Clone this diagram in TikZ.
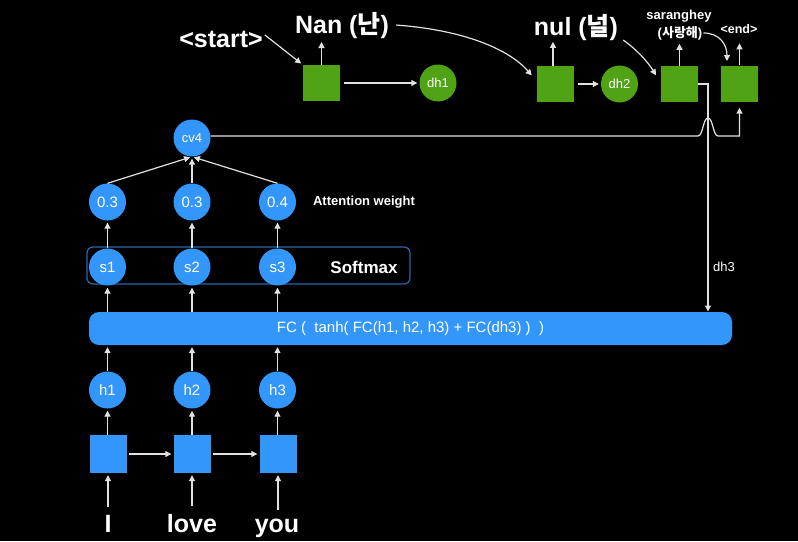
\documentclass[tikz,border=0pt]{standalone}
\usepackage{fontspec}
\setmainfont{Liberation Sans}
\newfontfamily\kr{Noto Sans CJK KR}
\usetikzlibrary{arrows.meta}
\definecolor{myblue}{RGB}{51,150,250}
\definecolor{mygreen}{RGB}{80,163,20}
\definecolor{boxline}{RGB}{45,100,170}
\definecolor{linec}{RGB}{225,225,225}
\tikzset{
  arr/.style={draw=linec, line width=1.2pt, -{Triangle[length=6pt,width=6pt]}, shorten >=2pt},
  bc/.style={circle, fill=myblue, text=white, minimum size=37pt, inner sep=0pt, font=\fontsize{15}{15}\selectfont},
  gc/.style={circle, fill=mygreen, text=white, minimum size=37pt, inner sep=0pt, font=\fontsize{13}{13}\selectfont},
  bsq/.style={fill=myblue, minimum width=37pt, minimum height=38pt, inner sep=0pt},
  gsq/.style={fill=mygreen, minimum width=37pt, minimum height=36pt, inner sep=0pt},
  big/.style={text=white, inner sep=2pt, font=\bfseries\fontsize{25}{25}\selectfont},
  small/.style={text=white, inner sep=1pt, font=\bfseries\fontsize{13}{14}\selectfont},
}
\begin{document}
\begin{tikzpicture}[x=1pt,y=-1pt]
\fill[black] (0,0) rectangle (798,541);
\useasboundingbox (0,0) rectangle (798,541);

% top decoder
\node[gsq] (b1) at (321.5,83) {};
\node[gc] (dh1) at (438,83) {dh1};
\node[gsq] (b2) at (555,84) {};
\node[gc] (dh2) at (619.5,84) {dh2};
\node[gsq] (b3) at (679.5,84) {};
\node[gsq] (b4) at (739.5,83.5) {};

\node[big, anchor=base] (start) at (221,47) {<start>};
\node[big, anchor=base] (nan) at (342,33) {Nan ({\kr 난})};
\node[big, anchor=base] (nul) at (576,35) {nul ({\kr 널})};
\node[small] (sar) at (679,16) {saranghey};
\node[small] (sarkr) at (680,33) {({\kr 사랑해})};
\node[small, font=\bfseries\fontsize{12.5}{14}\selectfont] (endt) at (739,29) {<end>};

\draw[arr] (start.east) ++(0,-4) coordinate (st0) -- (b1.north west);
\draw[arr] (b1.north) -- (b1.north |- 0,40);
\draw[arr] (b1.east) ++(4,0) coordinate (b1e) -- (dh1.west);
\draw[arr] (nan.east) ++(5,0) coordinate (n0) .. controls (465,30) and (510,50) .. (533,77);
\draw[arr] (b2.north) ++(-2,0) coordinate (b2n) -- ++(0,-26);
\draw[arr] (b2.east) ++(4,0) coordinate (b2e) -- (dh2.west);
\draw[arr] (nul.east) ++(3,13) coordinate (u0) .. controls (636,49) and (648,62) .. (657,77);
\draw[arr] (b3.north) -- ++(0,-24);
\draw[arr] (b4.north) -- ++(0,-24);
\draw[arr] (sarkr.east) .. controls (720,33) and (727,45) .. (727,63);

% cv4 and attention
\node[bc, font=\fontsize{13}{13}\selectfont] (cv4) at (192,138) {cv4};
\node[bc] (a1) at (107.5,202) {0.3};
\node[bc] (a2) at (192,202) {0.3};
\node[bc] (a3) at (277.5,202) {0.4};
\node[small] (att) at (364,202) {Attention weight};

\draw[arr] (a1.north) -- (cv4.south);
\draw[arr] (a2.north) -- (cv4.south);
\draw[arr] (a3.north) -- (cv4.south);

% softmax
\node[draw=boxline, line width=1.2pt, rounded corners=6pt, minimum width=323pt, minimum height=37pt] (smbox) at (248.5,265.5) {};
\node[bc] (s1) at (107.5,267) {s1};
\node[bc] (s2) at (192,267) {s2};
\node[bc] (s3) at (277.5,267) {s3};
\node[text=white, font=\bfseries\fontsize{17}{17}\selectfont] (smt) at (364,267) {Softmax};

\draw[arr] (s1.north) -- (a1.south);
\draw[arr] (s2.north) -- (a2.south);
\draw[arr] (s3.north) -- (a3.south);

% FC
\node[fill=myblue, rounded corners=10pt, minimum width=643pt, minimum height=33pt, text=white, font=\fontsize{15}{15}\selectfont] (fc) at (410.5,328.5) {FC (\ \ tanh( FC(h1, h2, h3) + FC(dh3) )\ \ )};

\draw[arr] (fc.north -| s1) -- (s1.south);
\draw[arr] (fc.north -| s2) -- (s2.south);
\draw[arr] (fc.north -| s3) -- (s3.south);

% encoder
\node[bc] (h1) at (107.5,390) {h1};
\node[bc] (h2) at (192,390) {h2};
\node[bc] (h3) at (277.5,390) {h3};
\node[bsq] (r1) at (108,454) {};
\node[bsq] (r2) at (192,454) {};
\node[bsq] (r3) at (278,454) {};

\draw[arr] (h1.north) -- (fc.south -| h1);
\draw[arr] (h2.north) -- (fc.south -| h2);
\draw[arr] (h3.north) -- (fc.south -| h3);
\draw[arr] (r1.north -| h1) -- (h1.south);
\draw[arr] (r2.north -| h2) -- (h2.south);
\draw[arr] (r3.north -| h3) -- (h3.south);
\draw[arr, shorten <=2pt] (r1.east) -- (r2.west);
\draw[arr, shorten <=2pt] (r2.east) -- (r3.west);

\node[big, anchor=base] (wI) at (108,532) {I};
\node[big, anchor=base] (wlove) at (192,532) {love};
\node[big, anchor=base] (wyou) at (277,532) {you};
\draw[arr, shorten <=6pt] (r1.south |- wI.north) -- (r1.south);
\draw[arr, shorten <=6pt] (r2.south |- wlove.north) -- (r2.south);
\draw[arr, shorten <=6pt] (r3.south |- wyou.north) -- (r3.south);

% dh3 path
\coordinate (d3) at (708,312);
\draw[arr, shorten >=0.5pt] (b3.east) -| (d3);
\node[text=white, font=\fontsize{13}{13}\selectfont] (dh3l) at (724,267) {dh3};

% cv4 path with jump
\coordinate (j1) at (698,136);
\coordinate (j2) at (718,136);
\draw[arr, shorten >=6pt] (cv4.east |- j1) -- (j1) .. controls (703,136) and (703,118) .. (708,118) .. controls (713,118) and (713,136) .. (j2) -| (b4.south);
\end{tikzpicture}
\end{document}
